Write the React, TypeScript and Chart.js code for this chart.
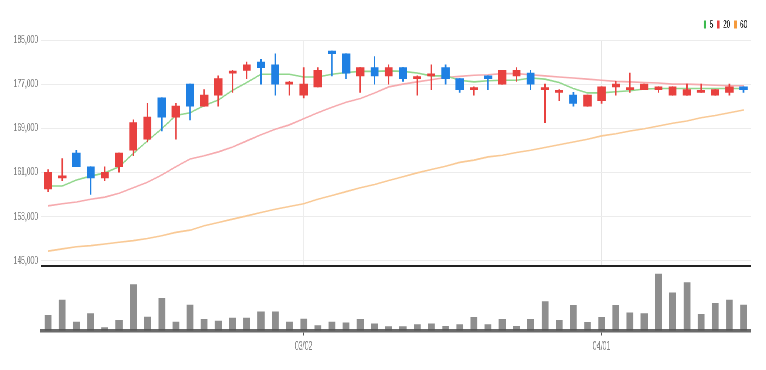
import React, { useEffect, useRef } from 'react';
import { Chart, registerables } from 'chart.js';

Chart.register(...registerables);

// ---- data ----
const DATES = [
  '02/03', '02/04', '02/07', '02/08', '02/09', '02/10', '02/11', '02/14', '02/15', '02/16',
  '02/17', '02/18', '02/21', '02/22', '02/23', '02/24', '02/25', '02/28', '03/02', '03/03',
  '03/04', '03/07', '03/08', '03/10', '03/11', '03/14', '03/15', '03/16', '03/17', '03/18',
  '03/21', '03/22', '03/23', '03/24', '03/25', '03/28', '03/29', '03/30', '03/31', '04/01',
  '04/04', '04/05', '04/06', '04/07', '04/08', '04/11', '04/12', '04/13', '04/14', '04/15',
];
const TICK_LABELS = ['03/02', '04/01'];
const PRICE_TICKS = [145000, 153000, 161000, 169000, 177000, 185000];

const OPEN = [
  158000, 160000, 164500, 162000, 160000, 162000, 165000, 167000, 174500, 171000,
  177000, 173000, 175000, 179000, 179500, 181000, 180500, 177000, 175000, 176500,
  183000, 182500, 178500, 180000, 178500, 180000, 178000, 178500, 180000, 178000,
  176000, 178500, 177000, 178500, 179000, 176000, 175500, 175000, 173000, 174000,
  176500, 176000, 176000, 176000, 175000, 175000, 175500, 175000, 175500, 176500,
];
const CLOSE = [
  161000, 160000, 162000, 160000, 161000, 164500, 170000, 171000, 171000, 173000,
  173000, 175000, 178000, 179000, 180500, 180000, 177000, 177000, 177000, 179500,
  182500, 179000, 180000, 178500, 180000, 178000, 178000, 178500, 178000, 176000,
  176000, 178000, 179500, 179500, 177000, 176000, 175500, 173500, 175000, 176500,
  177000, 176000, 177000, 176500, 176500, 176000, 175500, 176000, 176500, 176000,
];
const HIGH = [
  161500, 163500, 165000, 162000, 162000, 164500, 170500, 173500, 174500, 173500,
  177000, 176000, 178500, 179500, 181000, 181500, 182500, 177500, 180000, 180000,
  183000, 182500, 180000, 182000, 180500, 180000, 178500, 180500, 180500, 178000,
  176500, 178500, 179500, 180000, 179500, 177000, 176000, 175500, 175000, 176500,
  177500, 179000, 177000, 176500, 176500, 177000, 177000, 176000, 177000, 176500,
];
const LOW = [
  157500, 159500, 162000, 157000, 159500, 161000, 164000, 166500, 168500, 167000,
  170500, 173000, 173000, 175500, 178000, 177000, 175000, 175000, 174500, 176500,
  178500, 178000, 175500, 177000, 177000, 177500, 175000, 176000, 177000, 175500,
  175000, 176000, 177000, 177500, 176000, 170000, 174000, 173000, 173000, 173500,
  175000, 175500, 176000, 175500, 175000, 175000, 175500, 175000, 175000, 175500,
];
const MA5 = [
  158500, 158500, 159600, 160300, 160900, 162000, 164400, 166700, 168900, 171300,
  171800, 173100, 174100, 175900, 177300, 178800, 178800, 178800, 178300, 178300,
  178800, 179100, 179300, 179300, 179400, 179300, 179000, 178500, 178500, 177700,
  177400, 177600, 177700, 177700, 178100, 177900, 177300, 176200, 175400, 175400,
  175600, 175800, 176100, 176200, 176200, 176200, 176200, 176200, 176200, 176200,
];
const MA20 = [
  154900, 155300, 155600, 156100, 156500, 157200, 158200, 159200, 160500, 162000,
  163400, 164000, 164700, 165600, 166700, 167800, 168800, 169600, 170700, 171800,
  172800, 173700, 174400, 175400, 176500, 177000, 177400, 177800, 178200, 178400,
  178600, 178700, 178900, 178900, 178700, 178500, 178300, 178100, 177900, 177700,
  177500, 177400, 177300, 177200, 177000, 177000, 176900, 176800, 176700, 176700,
];
const MA60 = [
  146700, 147100, 147500, 147700, 148000, 148300, 148600, 149000, 149500, 150100,
  150500, 151300, 151900, 152500, 153100, 153700, 154300, 154800, 155300, 156100,
  156800, 157500, 158200, 158800, 159500, 160200, 160900, 161500, 162100, 162800,
  163200, 163800, 164100, 164600, 165000, 165500, 166000, 166500, 167000, 167600,
  168000, 168500, 168900, 169400, 169900, 170300, 170900, 171300, 171800, 172300,
];
const VOLUME = [
  150000, 300000, 83000, 167000, 30000, 100000, 450000, 133000, 317000, 83000,
  250000, 110000, 93000, 123000, 123000, 183000, 183000, 83000, 113000, 50000,
  83000, 77000, 110000, 67000, 40000, 40000, 60000, 67000, 43000, 60000,
  130000, 60000, 110000, 43000, 110000, 283000, 100000, 247000, 80000, 130000,
  247000, 173000, 167000, 553000, 370000, 470000, 160000, 267000, 300000, 250000,
];
const MA_LABELS = ['5', '20', '60'];

// ---- style ----
const W = 1300;
const SQUISH = 766 / W;
const AXIS_W = 41 / SQUISH;
const RIGHT_PAD = W - 750.7 / SQUISH;
const UP = '#e8413f';
const DOWN = '#1f80e3';
const FONT = 'Liberation Sans, Arial, sans-serif';
const LINE_COLORS = ['#92d78d', '#f6aaae', '#f9c995'];
const LEGEND_COLORS = ['#3cba4f', '#e8413f', '#f59a3c'];

export default function App() {
  const priceRef = useRef<HTMLCanvasElement>(null);
  const volRef = useRef<HTMLCanvasElement>(null);

  useEffect(() => {
    Chart.defaults.font.family = FONT;
    const colors = OPEN.map((o, i) => (CLOSE[i] >= o ? UP : DOWN));
    const isLabeled = (i: number) => TICK_LABELS.includes(DATES[i]);
    const maData = [MA5, MA20, MA60];

    const price = new Chart(priceRef.current as HTMLCanvasElement, {
      type: 'bar',
      data: {
        labels: DATES,
        datasets: [
          ...maData.map((d, k) => ({
            type: 'line' as const,
            label: MA_LABELS[k],
            data: d,
            borderColor: LINE_COLORS[k],
            backgroundColor: LEGEND_COLORS[k],
            borderWidth: 1.6,
            pointRadius: 0,
            tension: 0,
            order: 5,
          })),
          {
            type: 'bar' as const,
            label: 'wick',
            data: LOW.map((l, i) => [l, HIGH[i]]),
            backgroundColor: colors,
            barThickness: 2,
            grouped: false,
            order: 2,
          },
          {
            type: 'bar' as const,
            label: 'body',
            data: OPEN.map((o, i) => [o, CLOSE[i]]),
            backgroundColor: colors,
            barThickness: 13,
            minBarLength: 2,
            grouped: false,
            order: 1,
          },
        ],
      } as any,
      options: {
        animation: false,
        responsive: true,
        maintainAspectRatio: false,
        devicePixelRatio: 1,
        layout: { padding: { top: 13, right: RIGHT_PAD, bottom: 2, left: 0 } },
        plugins: {
          tooltip: { enabled: false },
          legend: {
            display: true,
            position: 'top',
            align: 'end',
            labels: {
              font: { size: 11, family: FONT },
              color: '#666',
              boxWidth: 5,
              boxHeight: 8,
              padding: 6,
              generateLabels: () =>
                MA_LABELS.map((t, k) => ({
                  text: t,
                  fillStyle: LEGEND_COLORS[k],
                  strokeStyle: LEGEND_COLORS[k],
                  lineWidth: 0,
                  hidden: false,
                  datasetIndex: k,
                })),
            },
          },
        },
        scales: {
          x: {
            type: 'category',
            offset: true,
            afterFit: (s: any) => {
              s.height = 0;
            },
            ticks: { display: false, autoSkip: false },
            grid: {
              offset: false,
              drawTicks: false,
              lineWidth: 1.7,
              color: (ctx: any) => (isLabeled(ctx.index) ? '#e6e6e6' : 'rgba(0,0,0,0)'),
            },
            border: { display: true, color: '#222', width: 2 },
          },
          y: {
            position: 'left',
            min: 144000,
            max: 185000,
            afterBuildTicks: (s: any) => {
              s.ticks = PRICE_TICKS.map((v) => ({ value: v }));
            },
            afterFit: (s: any) => {
              s.width = AXIS_W;
              s.paddingBottom = 0;
              s.paddingTop = 0;
            },
            ticks: {
              font: { size: 11.5, family: FONT },
              color: '#808080',
              padding: 5,
              callback: (v: any) => Number(v).toLocaleString('en-US'),
            },
            grid: { color: '#ececec', drawTicks: false },
            border: { display: false },
          },
        },
      } as any,
    });

    const vol = new Chart(volRef.current as HTMLCanvasElement, {
      type: 'bar',
      data: {
        labels: DATES,
        datasets: [
          {
            label: 'volume',
            data: VOLUME,
            backgroundColor: '#8e8e8e',
            barThickness: 11,
          },
        ],
      },
      options: {
        animation: false,
        responsive: true,
        maintainAspectRatio: false,
        devicePixelRatio: 1,
        layout: { padding: { top: 0, right: RIGHT_PAD, bottom: 12, left: 0 } },
        plugins: { tooltip: { enabled: false }, legend: { display: false } },
        scales: {
          x: {
            type: 'category',
            offset: true,
            ticks: {
              autoSkip: false,
              maxRotation: 0,
              padding: 4,
              font: { size: 12, family: FONT },
              color: '#808080',
              callback: (_v: any, i: number) => (isLabeled(i) ? DATES[i] : ''),
            },
            grid: {
              offset: false,
              drawOnChartArea: false,
              drawTicks: true,
              tickLength: 5,
              lineWidth: 2,
              color: (ctx: any) => (isLabeled(ctx.index) ? '#555' : 'rgba(0,0,0,0)'),
            },
            border: { display: true, color: 'rgba(80,80,80,0.85)', width: 3.5, z: 1 },
          },
          y: {
            min: 0,
            max: 613000,
            afterFit: (s: any) => {
              s.width = AXIS_W;
            },
            ticks: { display: false },
            grid: { display: false },
            border: { display: false },
          },
        },
      } as any,
    });

    return () => {
      price.destroy();
      vol.destroy();
    };
  }, []);

  return (
    <div
      style={{
        position: 'fixed',
        left: 0,
        top: 0,
        width: 766,
        height: 370,
        overflow: 'hidden',
        background: '#fff',
      }}
    >
      <div
        style={{
          position: 'absolute',
          left: 0,
          top: 0,
          width: W,
          height: 370,
          transform: `scaleX(${SQUISH})`,
          transformOrigin: '0 0',
        }}
      >
        <div style={{ position: 'absolute', left: 0, top: 0, width: W, height: 268 }}>
          <canvas ref={priceRef} />
        </div>
        <div style={{ position: 'absolute', left: 0, top: 268, width: W, height: 102 }}>
          <canvas ref={volRef} />
        </div>
      </div>
    </div>
  );
}
